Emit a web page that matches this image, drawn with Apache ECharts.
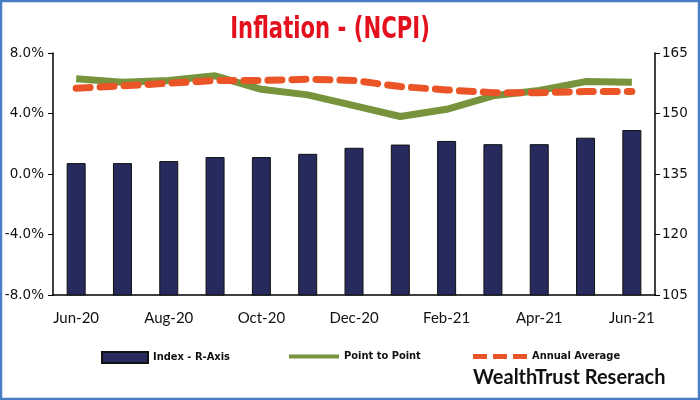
<!DOCTYPE html>
<html><head><meta charset="utf-8">
<script src="https://cdn.jsdelivr.net/npm/echarts@6/dist/echarts.min.js"></script>
<style>html,body{margin:0;padding:0;background:#fff}#c{width:700px;height:400px}</style>
</head><body><div id="c"></div>
<script>
const categories = ['Jun-20','Jul-20','Aug-20','Sep-20','Oct-20','Nov-20','Dec-20','Jan-21','Feb-21','Mar-21','Apr-21','May-21','Jun-21'];
const indexValues = [137.7, 137.7, 138.2, 139.2, 139.2, 140.0, 141.5, 142.3, 143.2, 142.4, 142.4, 144.0, 145.9];
const pointToPoint = [6.29, 6.07, 6.18, 6.49, 5.60, 5.23, 4.52, 3.80, 4.28, 5.17, 5.52, 6.11, 6.07];
const annualAverage = [5.67, 5.83, 6.00, 6.18, 6.18, 6.27, 6.18, 5.78, 5.56, 5.38, 5.38, 5.45, 5.45];
const leftTicks = [-8, -4, 0, 4, 8];
const rightTicks = [105, 120, 135, 150, 165];

const chart = echarts.init(document.getElementById('c'));
const yFont = {fontFamily: 'DejaVu Sans', fontSize: 13.5, color: '#111'};
const legendText = {fontFamily: "'DejaVu Sans Condensed', 'Open Sans', sans-serif", fontWeight: 'bold', fontSize: 11, color: '#111'};
chart.setOption({
  animation: false,
  backgroundColor: '#fff',
  graphic: [
    {type: 'rect', shape: {x: 1, y: 1, width: 698, height: 398}, style: {fill: 'none', stroke: '#4A7EC2', lineWidth: 2.5}, z: 100},
    {type: 'text', x: 330, y: 30, scaleX: 0.76, z: 50,
     style: {text: 'Inflation - (NCPI)', font: "bold 31px 'DejaVu Sans Condensed', Roboto, sans-serif", fill: '#E3101E', align: 'center', verticalAlign: 'middle'}},
    {type: 'text', left: 473, top: 368, style: {text: 'WealthTrust Reserach', font: 'bold 20px Lato', fill: '#111'}}
  ],
  legend: [
    {data: [{name: 'Index - R-Axis', icon: 'rect'}], left: 96, top: 346, itemWidth: 46, itemHeight: 11, itemGap: 6, textStyle: legendText},
    {data: [{name: 'Point to Point', icon: 'rect'}], left: 284, top: 346, itemWidth: 50, itemHeight: 4, textStyle: legendText},
    {data: [{name: 'Annual Average', icon: 'path://M0,0h14v5h-14z M20,0h14v5h-14z M40,0h14v5h-14z'}], left: 468, top: 346, itemWidth: 54, itemHeight: 5, textStyle: legendText}
  ],
  grid: {left: 53, right: 45, top: 53, bottom: 105},
  xAxis: {
    type: 'category', data: categories, boundaryGap: true,
    axisLine: {onZero: false, lineStyle: {color: '#000', width: 1.5}},
    axisTick: {interval: 1, length: 5, lineStyle: {color: '#000'}},
    axisLabel: {interval: 1, margin: 16, fontFamily: 'Lato', fontSize: 15, color: '#111'}
  },
  yAxis: [
    {type: 'value', min: -8, max: 8, interval: 4, position: 'left',
     axisLine: {show: true, lineStyle: {color: '#000', width: 1.5}},
     axisTick: {show: true, length: 5, lineStyle: {color: '#000'}},
     splitLine: {show: false},
     axisLabel: Object.assign({formatter: v => v.toFixed(1) + '%', margin: 9}, yFont)},
    {type: 'value', min: 105, max: 165, interval: 15, position: 'right',
     axisLine: {show: true, lineStyle: {color: '#000', width: 1.5}},
     axisTick: {show: true, length: 5, lineStyle: {color: '#000'}},
     splitLine: {show: false},
     axisLabel: Object.assign({margin: 7}, yFont)}
  ],
  series: [
    {name: 'Index - R-Axis', type: 'bar', yAxisIndex: 1, data: indexValues, barWidth: 19,
     itemStyle: {color: '#262A5C', borderColor: '#111', borderWidth: 1}},
    {name: 'Point to Point', type: 'line', yAxisIndex: 0, data: pointToPoint, symbol: 'none',
     lineStyle: {color: '#77933C', width: 7}, itemStyle: {color: '#77933C'}, z: 3},
    {name: 'Annual Average', type: 'line', yAxisIndex: 0, data: annualAverage, symbol: 'none',
     lineStyle: {color: '#EA5426', width: 7, type: [14, 10], cap: 'round'}, itemStyle: {color: '#EA5426'}, z: 4}
  ]
});
</script></body></html>
